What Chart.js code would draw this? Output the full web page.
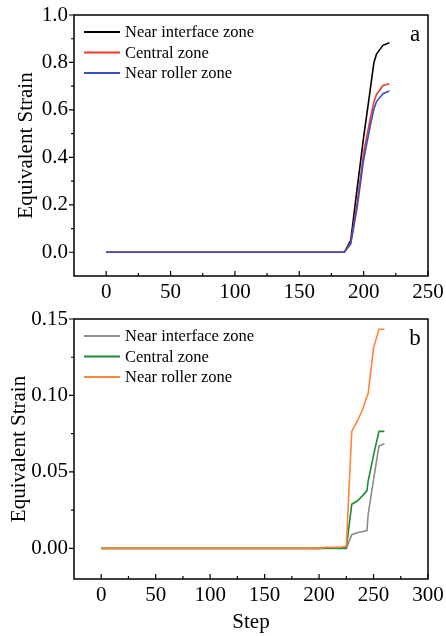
<!DOCTYPE html>
<html>
<head>
<meta charset="utf-8">
<script src="https://cdn.jsdelivr.net/npm/chart.js@4/dist/chart.umd.min.js"></script>
<style>
  body { margin: 0; background: #fff; }
  canvas { position: absolute; left: 0; }
  #chartA { top: 0; }
  #chartB { top: 300px; }
</style>
</head>
<body>
<canvas id="chartA" width="446" height="310"></canvas>
<canvas id="chartB" width="446" height="336"></canvas>
<script>
// panel a
var stepsA = [0, 185, 190, 195, 200, 205, 208, 210, 215, 220];
var nearInterfaceA = [0, 0, 0.05, 0.27, 0.485, 0.68, 0.80, 0.835, 0.872, 0.883];
var centralA = [0, 0, 0.04, 0.21, 0.42, 0.56, 0.635, 0.665, 0.703, 0.71];
var nearRollerA = [0, 0, 0.035, 0.19, 0.39, 0.53, 0.605, 0.635, 0.668, 0.68];
var xTicksA = [0, 50, 100, 150, 200, 250];
var yTicksA = [0.0, 0.2, 0.4, 0.6, 0.8, 1.0];

// panel b
var stepsB = [0, 200, 205, 220, 225, 230, 235, 240, 244, 245, 250, 255, 260];
var nearInterfaceB = [0, 0, 0, 0, 0, 0.009, 0.0102, 0.011, 0.0117, 0.022, 0.045, 0.067, 0.0685];
var centralB = [0, 0, 0.0002, 0.0002, 0.0002, 0.0289, 0.031, 0.0345, 0.0378, 0.0439, 0.061, 0.0765, 0.0765];
var nearRollerB = [0, 0, 0.0007, 0.0008, 0.0015, 0.0765, 0.083, 0.091, 0.0995, 0.101, 0.131, 0.1433, 0.1433];
var xTicksB = [0, 50, 100, 150, 200, 250, 300];
var yTicksB = [0.00, 0.05, 0.10, 0.15];

var seriesNames = ["Near interface zone", "Central zone", "Near roller zone"];
var serif = "'Liberation Serif', 'Times New Roman', serif";

function pts(xs, ys) {
  return xs.map(function (x, i) { return { x: x, y: ys[i] }; });
}

// frame, inward x ticks, outward y ticks, legend inside, panel letter
var panelDeco = {
  id: 'panelDeco',
  afterDraw: function (chart, args, o) {
    var ctx = chart.ctx, a = chart.chartArea;
    var xs = chart.scales.x, ys = chart.scales.y;
    ctx.save();
    ctx.strokeStyle = '#000';
    ctx.lineWidth = 1.5;
    ctx.strokeRect(a.left, a.top, a.right - a.left, a.bottom - a.top);

    ctx.lineWidth = 1.2;
    ctx.beginPath();
    o.xTicks.forEach(function (v, i) {
      var px = xs.getPixelForValue(v);
      ctx.moveTo(px, a.bottom); ctx.lineTo(px, a.bottom - 5);
      if (i < o.xTicks.length - 1) {
        var m = xs.getPixelForValue((v + o.xTicks[i + 1]) / 2);
        ctx.moveTo(m, a.bottom); ctx.lineTo(m, a.bottom - 3);
      }
    });
    o.yTicks.forEach(function (v, i) {
      var py = ys.getPixelForValue(v);
      ctx.moveTo(a.left, py); ctx.lineTo(a.left - 5, py);
      if (i < o.yTicks.length - 1) {
        var m = ys.getPixelForValue((v + o.yTicks[i + 1]) / 2);
        ctx.moveTo(a.left, m); ctx.lineTo(a.left - 3, m);
      }
    });
    ctx.stroke();

    // legend
    ctx.font = '16.5px ' + serif;
    ctx.textBaseline = 'middle';
    ctx.textAlign = 'left';
    chart.data.datasets.forEach(function (ds, i) {
      var y = a.top + o.legendTop + i * 20.5;
      var x0 = a.left + 10;
      ctx.strokeStyle = ds.borderColor;
      ctx.lineWidth = 1.8;
      ctx.beginPath();
      ctx.moveTo(x0, y); ctx.lineTo(x0 + 36, y);
      ctx.stroke();
      ctx.fillStyle = '#000';
      ctx.fillText(ds.label, x0 + 41, y + 1);
    });

    ctx.font = '23px ' + serif;
    ctx.textBaseline = 'alphabetic';
    ctx.textAlign = 'center';
    ctx.fillStyle = '#000';
    ctx.fillText(o.letter, a.right - 13, a.top + 26);
    ctx.restore();
  }
};

function makeChart(id, cfg) {
  return new Chart(document.getElementById(id), {
    type: 'line',
    data: {
      datasets: cfg.series.map(function (s, i) {
        return {
          label: seriesNames[i],
          data: pts(cfg.steps, s),
          borderColor: cfg.colors[i],
          borderWidth: 1.6,
          pointRadius: 0,
          tension: 0,
          order: 3 - i
        };
      })
    },
    options: {
      responsive: false,
      animation: false,
      layout: { padding: { top: cfg.padTop, right: 18, left: 0, bottom: 0 } },
      plugins: {
        legend: { display: false },
        tooltip: { enabled: false },
        panelDeco: { letter: cfg.letter, xTicks: cfg.xTicks, yTicks: cfg.yTicks, legendTop: 17 }
      },
      scales: {
        x: {
          type: 'linear',
          min: -25, max: cfg.xMax,
          grid: { display: false, drawTicks: false, tickLength: 0 },
          border: { display: false },
          afterBuildTicks: function (s) { s.ticks = cfg.xTicks.map(function (v) { return { value: v }; }); },
          afterFit: function (s) { s.height = cfg.xHeight; s.paddingLeft = 0; s.paddingRight = 0; },
          ticks: { color: '#000', padding: 4, maxRotation: 0, font: { family: serif, size: 21 } },
          title: cfg.xTitle ? { display: true, text: 'Step', color: '#000', padding: { top: 0, bottom: 1 }, font: { family: serif, size: 21 } } : { display: false }
        },
        y: {
          min: cfg.yMin, max: cfg.yMax,
          grid: { display: false, drawTicks: false, tickLength: 0 },
          border: { display: false },
          afterBuildTicks: function (s) { s.ticks = cfg.yTicks.map(function (v) { return { value: v }; }); },
          afterFit: function (s) { s.width = 74; s.paddingTop = 0; s.paddingBottom = 0; },
          ticks: {
            color: '#000', padding: 6, font: { family: serif, size: 21 },
            callback: function (v) { return v.toFixed(cfg.yDigits); }
          },
          title: { display: true, text: 'Equivalent Strain', color: '#000', padding: { top: cfg.yTitlePad, bottom: 0 }, font: { family: serif, size: 21 } }
        }
      }
    },
    plugins: [panelDeco]
  });
}

makeChart('chartA', {
  steps: stepsA, series: [nearInterfaceA, centralA, nearRollerA],
  colors: ['#000000', '#f23c2c', '#3a4fc4'],
  letter: 'a', xTicks: xTicksA, yTicks: yTicksA,
  xMax: 250, yMin: -0.1, yMax: 1.0, yDigits: 1,
  padTop: 15, xHeight: 34, xTitle: false, yTitlePad: 14
});

makeChart('chartB', {
  steps: stepsB, series: [nearInterfaceB, centralB, nearRollerB],
  colors: ['#8c8c8c', '#1e8a34', '#ff8436'],
  letter: 'b', xTicks: xTicksB, yTicks: yTicksB,
  xMax: 300, yMin: -0.02, yMax: 0.15, yDigits: 2,
  padTop: 19, xHeight: 57, xTitle: true, yTitlePad: 7
});
</script>
</body>
</html>
